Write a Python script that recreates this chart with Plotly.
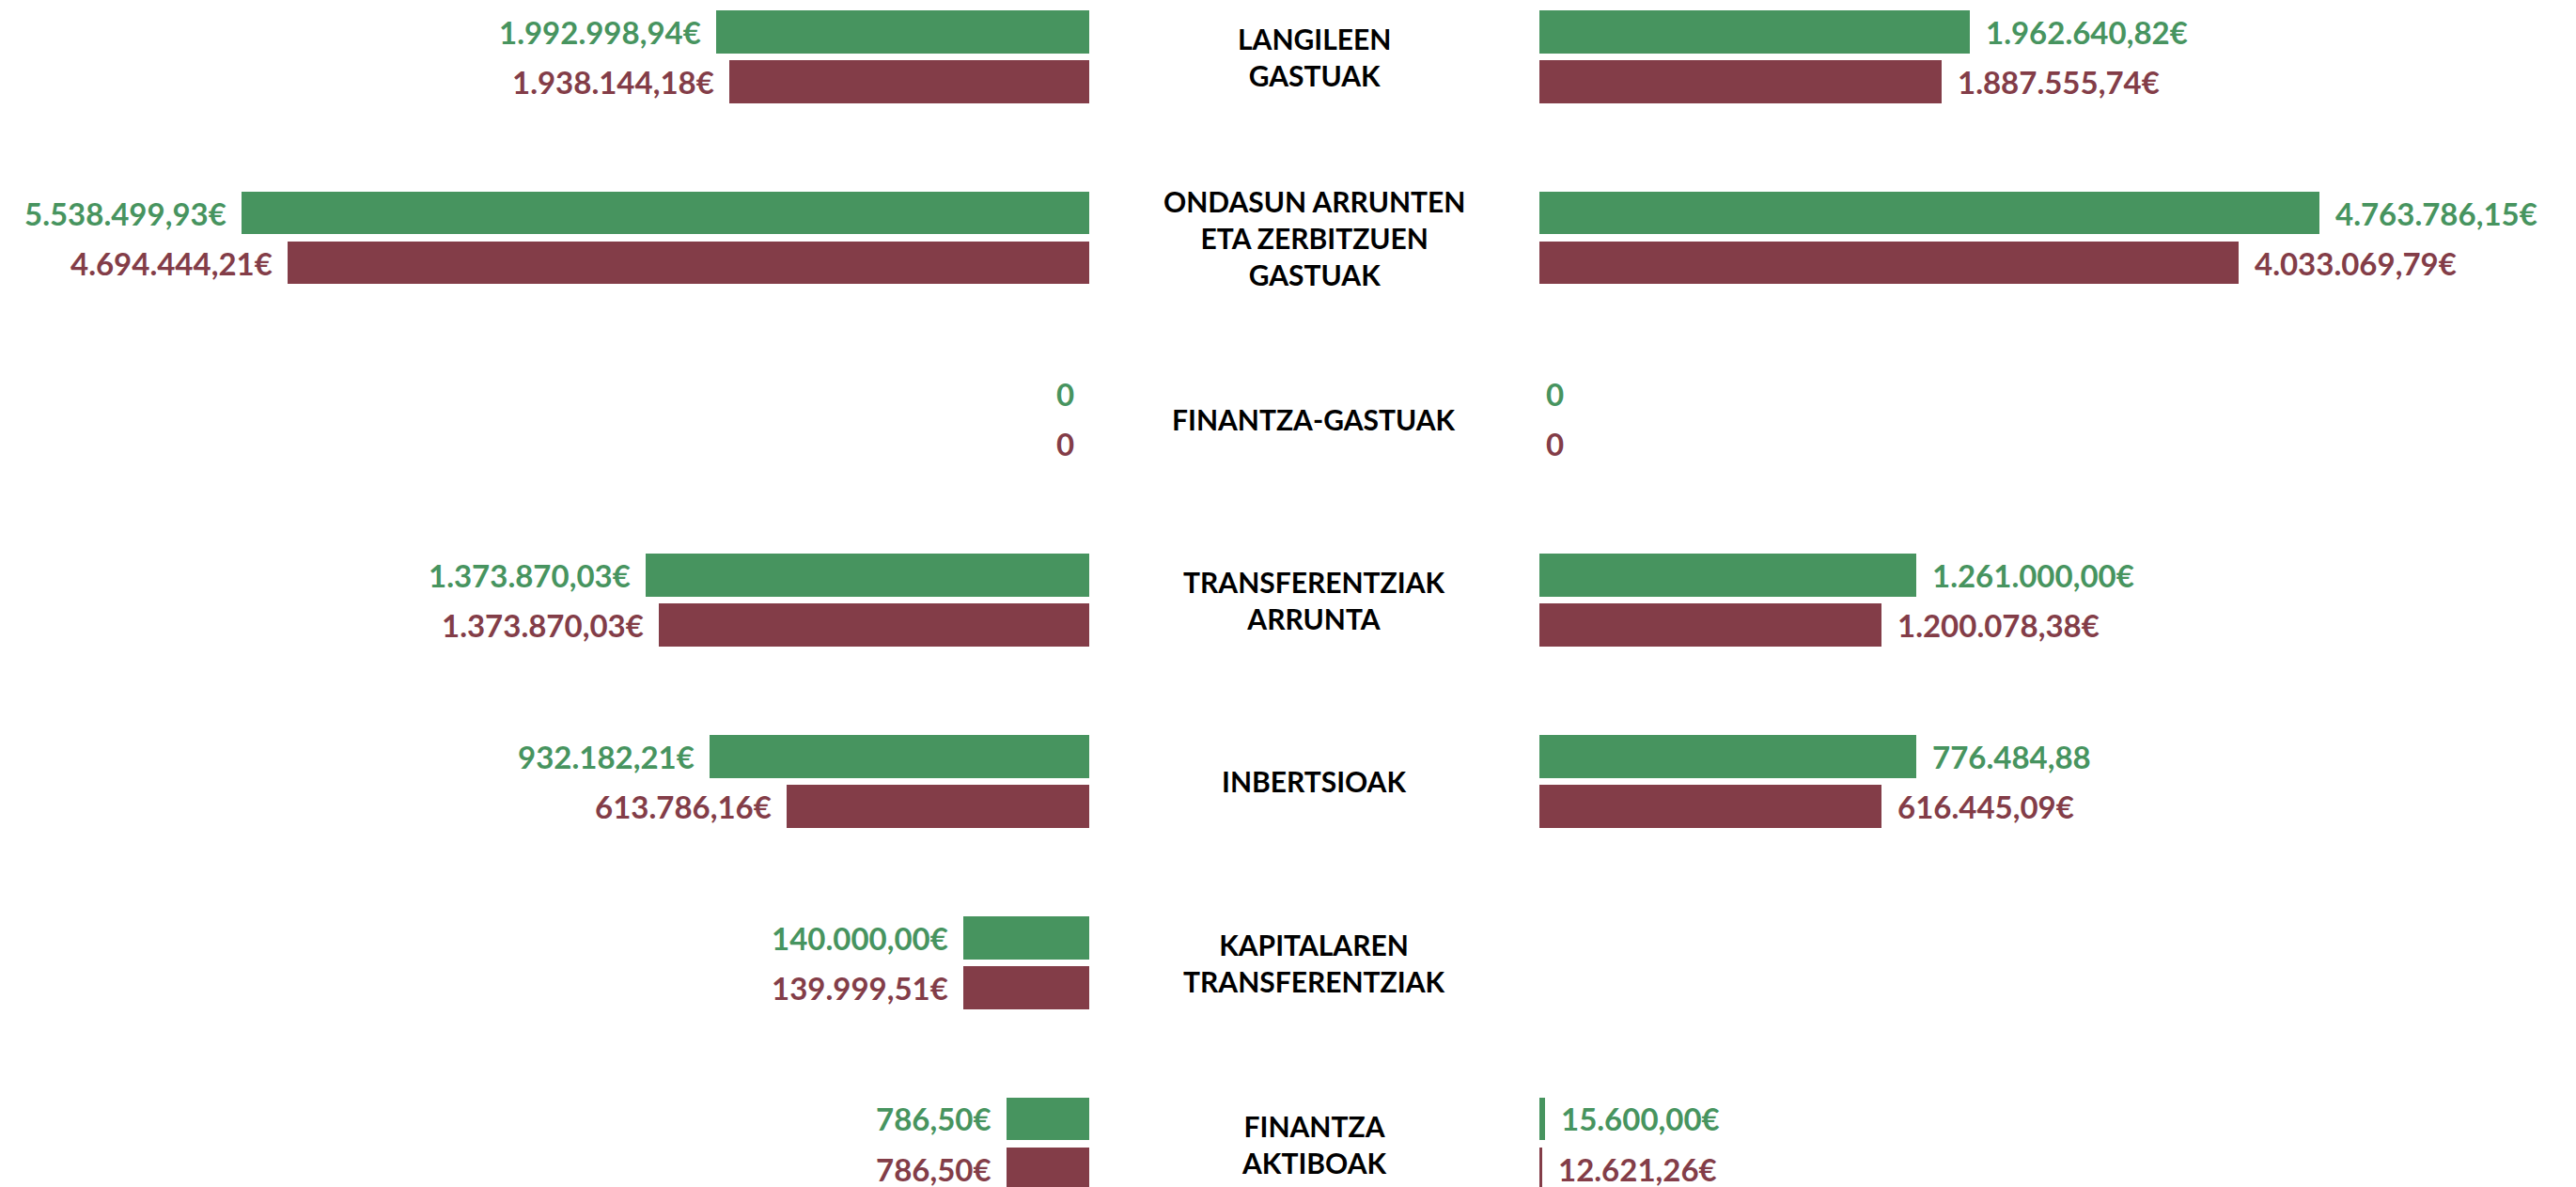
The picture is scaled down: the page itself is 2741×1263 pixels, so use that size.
import plotly.graph_objects as go

# spending chapters (center labels), top to bottom
categories = [
    "LANGILEEN<br>GASTUAK",
    "ONDASUN ARRUNTEN<br>ETA ZERBITZUEN<br>GASTUAK",
    "FINANTZA-GASTUAK",
    "TRANSFERENTZIAK<br>ARRUNTA",
    "INBERTSIOAK",
    "KAPITALAREN<br>TRANSFERENTZIAK",
    "FINANTZA<br>AKTIBOAK",
]

# printed amounts (EUR); None = no entry
left_green = [1992998.94, 5538499.93, 0, 1373870.03, 932182.21, 140000.00, 786.50]
left_red = [1938144.18, 4694444.21, 0, 1373870.03, 613786.16, 139999.51, 786.50]
right_green = [1962640.82, 4763786.15, 0, 1261000.00, 776484.88, None, 15600.00]
right_red = [1887555.74, 4033069.79, 0, 1200078.38, 616445.09, None, 12621.26]

# the infographic's bars are not drawn to scale, so their lengths are read
# off the picture separately (longest bar = 100)
left_green_len = [44.0, 100.0, 0, 52.3, 44.8, 14.9, 9.7]
left_red_len = [42.5, 94.6, 0, 50.8, 35.7, 14.9, 9.7]
right_green_len = [50.8, 92.0, 0, 44.5, 44.5, 0, 0.7]
right_red_len = [47.5, 82.5, 0, 40.4, 40.4, 0, 0.35]

# the printed label for this one has no euro sign
no_euro = {("right_green", 4)}

GREEN = "#47945f"
RED = "#833d48"
FONT = "Lato"


def fmt(v, key, i):
    if v is None:
        return None
    if v == 0:
        return "0"
    s = f"{v:,.2f}".replace(",", "X").replace(".", ",").replace("X", ".")
    if (key, i) not in no_euro:
        s += "€"
    return s


n = len(categories)
rows = list(range(n))
off = 0.1375   # half distance between the two bars of a row
bw = 0.237     # bar thickness

fig = go.Figure()
series = [
    ("left_green", left_green, left_green_len, GREEN, -off, "x"),
    ("left_red", left_red, left_red_len, RED, off, "x"),
    ("right_green", right_green, right_green_len, GREEN, -off, "x2"),
    ("right_red", right_red, right_red_len, RED, off, "x2"),
]

annotations = []
for key, amounts, lengths, color, dy, xa in series:
    ys = [r + dy for r in rows]
    fig.add_trace(go.Bar(
        x=lengths, y=ys, orientation="h", width=bw,
        marker=dict(color=color, line=dict(width=0)),
        xaxis=xa, yaxis="y", showlegend=False, hoverinfo="skip",
    ))
    for i, (v, L) in enumerate(zip(amounts, lengths)):
        t = fmt(v, key, i)
        if t is None:
            continue
        left = xa == "x"
        if left:
            shift = -14
        else:
            shift = 5 if v == 0 else 15
        annotations.append(dict(
            x=L, y=ys[i], xref=xa, yref="y", text="<b>" + t + "</b>",
            showarrow=False, xanchor="right" if left else "left",
            xshift=shift, yanchor="middle",
            font=dict(family=FONT, size=33, color=color),
        ))

# center labels
for i, cat in enumerate(categories):
    annotations.append(dict(
        x=0.5102, y=i, xref="paper", yref="y", text="<b>" + cat + "</b>",
        showarrow=False, xanchor="center", yanchor="middle", align="center",
        font=dict(family=FONT, size=30, color="black"),
    ))

hidden = dict(visible=False, showgrid=False, zeroline=False, fixedrange=True)
fig.update_layout(
    width=2741, height=1263,
    margin=dict(l=0, r=0, t=0, b=0),
    paper_bgcolor="white", plot_bgcolor="white",
    xaxis=dict(domain=[0, 0.4228], range=[128.5, 0], **hidden),
    xaxis2=dict(domain=[0.5976, 1], range=[0, 122.3], **hidden),
    yaxis=dict(range=[6.2386, -0.3128], **hidden),
    annotations=annotations,
    bargap=0, barmode="overlay",
)

fig.write_html("out.html", config={"displayModeBar": False},
               post_script="document.body.style.margin='0';")
